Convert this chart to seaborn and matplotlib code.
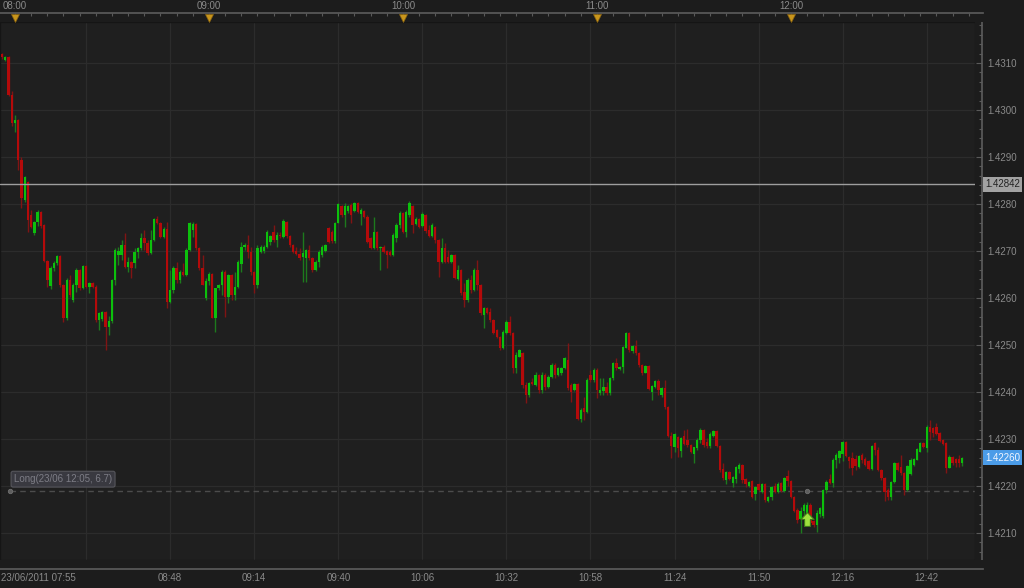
import numpy as np
import pandas as pd
import matplotlib
matplotlib.use("Agg")
import matplotlib.pyplot as plt
import matplotlib.transforms as mtransforms
from matplotlib.path import Path
from matplotlib.ticker import MultipleLocator, FixedLocator, FixedFormatter
import seaborn as sns

# ---------------- data ----------------
first_bar = "07:56"

opens = [
    1.43119, 1.43106, 1.43113, 1.43032, 1.42972, 1.42979, 1.42894, 1.42808, 1.42847, 1.42777,
    1.42738, 1.42762, 1.42783, 1.42755, 1.42679, 1.42626, 1.42664, 1.42674, 1.42689, 1.42628,
    1.42557, 1.42638, 1.42596, 1.42628, 1.42660, 1.42621, 1.42668, 1.42623, 1.42632, 1.42623,
    1.42553, 1.42555, 1.42570, 1.42538, 1.42551, 1.42638, 1.42691, 1.42691, 1.42713, 1.42666,
    1.42677, 1.42674, 1.42698, 1.42706, 1.42728, 1.42717, 1.42696, 1.42723, 1.42768, 1.42760,
    1.42730, 1.42747, 1.42591, 1.42617, 1.42664, 1.42638, 1.42655, 1.42649, 1.42702, 1.42745,
    1.42757, 1.42706, 1.42664, 1.42600, 1.42636, 1.42651, 1.42557, 1.42621, 1.42628, 1.42655,
    1.42602, 1.42649, 1.42606, 1.42623, 1.42672, 1.42709, 1.42713, 1.42698, 1.42655, 1.42628,
    1.42698, 1.42700, 1.42709, 1.42719, 1.42740, 1.42723, 1.42734, 1.42730, 1.42762, 1.42732,
    1.42713, 1.42700, 1.42693, 1.42687, 1.42685, 1.42702, 1.42685, 1.42660, 1.42677, 1.42692,
    1.42700, 1.42749, 1.42740, 1.42721, 1.42760, 1.42796, 1.42777, 1.42785, 1.42798, 1.42785,
    1.42802, 1.42779, 1.42785, 1.42772, 1.42728, 1.42706, 1.42740, 1.42706, 1.42709, 1.42700,
    1.42698, 1.42691, 1.42728, 1.42755, 1.42781, 1.42740, 1.42776, 1.42796, 1.42757, 1.42768,
    1.42753, 1.42777, 1.42745, 1.42732, 1.42751, 1.42723, 1.42677, 1.42706, 1.42687, 1.42677,
    1.42691, 1.42640, 1.42660, 1.42613, 1.42596, 1.42638, 1.42617, 1.42660, 1.42628, 1.42564,
    1.42579, 1.42570, 1.42553, 1.42532, 1.42517, 1.42494, 1.42526, 1.42549, 1.42526, 1.42451,
    1.42475, 1.42483, 1.42415, 1.42394, 1.42421, 1.42415, 1.42436, 1.42404, 1.42436, 1.42411,
    1.42432, 1.42457, 1.42436, 1.42440, 1.42451, 1.42468, 1.42415, 1.42404, 1.42417, 1.42343,
    1.42366, 1.42357, 1.42436, 1.42426, 1.42447, 1.42398, 1.42402, 1.42411, 1.42398, 1.42430,
    1.42462, 1.42449, 1.42453, 1.42494, 1.42526, 1.42487, 1.42498, 1.42483, 1.42457, 1.42440,
    1.42455, 1.42400, 1.42411, 1.42423, 1.42394, 1.42409, 1.42368, 1.42306, 1.42283, 1.42304,
    1.42275, 1.42306, 1.42298, 1.42287, 1.42268, 1.42281, 1.42298, 1.42319, 1.42294, 1.42285,
    1.42306, 1.42317, 1.42285, 1.42236, 1.42213, 1.42230, 1.42207, 1.42215, 1.42236, 1.42245,
    1.42215, 1.42200, 1.42211, 1.42183, 1.42204, 1.42187, 1.42204, 1.42168, 1.42177, 1.42200,
    1.42187, 1.42206, 1.42189, 1.42221, 1.42211, 1.42177, 1.42149, 1.42130, 1.42147, 1.42140,
    1.42160, 1.42125, 1.42117, 1.42140, 1.42136, 1.42191, 1.42215, 1.42206, 1.42255, 1.42260,
    1.42268, 1.42294, 1.42262, 1.42260, 1.42257, 1.42240, 1.42266, 1.42257, 1.42253, 1.42236,
    1.42291, 1.42277, 1.42234, 1.42217, 1.42191, 1.42177, 1.42208, 1.42249, 1.42240, 1.42228,
    1.42191, 1.42225, 1.42245, 1.42255, 1.42272, 1.42291, 1.42281, 1.42326, 1.42323, 1.42326,
    1.42313, 1.42298, 1.42291, 1.42238, 1.42262, 1.42257, 1.42257, 1.42249,
]

highs = [
    1.43122, 1.43115, 1.43115, 1.43040, 1.42989, 1.42981, 1.42900, 1.42860, 1.42849, 1.42787,
    1.42764, 1.42787, 1.42785, 1.42757, 1.42681, 1.42668, 1.42679, 1.42691, 1.42691, 1.42630,
    1.42643, 1.42649, 1.42632, 1.42664, 1.42662, 1.42670, 1.42670, 1.42634, 1.42634, 1.42628,
    1.42570, 1.42572, 1.42572, 1.42562, 1.42640, 1.42706, 1.42709, 1.42723, 1.42738, 1.42687,
    1.42679, 1.42706, 1.42709, 1.42738, 1.42745, 1.42723, 1.42745, 1.42770, 1.42774, 1.42762,
    1.42751, 1.42762, 1.42660, 1.42668, 1.42677, 1.42660, 1.42674, 1.42706, 1.42762, 1.42762,
    1.42760, 1.42708, 1.42691, 1.42643, 1.42655, 1.42653, 1.42621, 1.42630, 1.42660, 1.42660,
    1.42651, 1.42651, 1.42655, 1.42681, 1.42719, 1.42717, 1.42734, 1.42709, 1.42657, 1.42713,
    1.42713, 1.42713, 1.42745, 1.42734, 1.42755, 1.42740, 1.42740, 1.42768, 1.42764, 1.42734,
    1.42715, 1.42709, 1.42706, 1.42740, 1.42704, 1.42713, 1.42687, 1.42681, 1.42702, 1.42713,
    1.42715, 1.42751, 1.42745, 1.42762, 1.42802, 1.42798, 1.42802, 1.42798, 1.42802, 1.42804,
    1.42804, 1.42791, 1.42787, 1.42777, 1.42730, 1.42772, 1.42742, 1.42711, 1.42713, 1.42702,
    1.42702, 1.42738, 1.42760, 1.42785, 1.42783, 1.42787, 1.42806, 1.42798, 1.42772, 1.42770,
    1.42783, 1.42779, 1.42755, 1.42760, 1.42753, 1.42725, 1.42728, 1.42717, 1.42702, 1.42693,
    1.42693, 1.42670, 1.42662, 1.42632, 1.42643, 1.42649, 1.42664, 1.42681, 1.42630, 1.42581,
    1.42581, 1.42579, 1.42555, 1.42534, 1.42519, 1.42532, 1.42553, 1.42562, 1.42528, 1.42485,
    1.42491, 1.42485, 1.42421, 1.42421, 1.42430, 1.42442, 1.42438, 1.42442, 1.42440, 1.42436,
    1.42462, 1.42462, 1.42453, 1.42453, 1.42474, 1.42504, 1.42419, 1.42419, 1.42419, 1.42366,
    1.42389, 1.42430, 1.42447, 1.42451, 1.42451, 1.42430, 1.42430, 1.42421, 1.42432, 1.42464,
    1.42472, 1.42455, 1.42498, 1.42528, 1.42528, 1.42500, 1.42511, 1.42485, 1.42459, 1.42457,
    1.42457, 1.42415, 1.42426, 1.42428, 1.42411, 1.42426, 1.42370, 1.42315, 1.42313, 1.42306,
    1.42304, 1.42319, 1.42321, 1.42289, 1.42283, 1.42302, 1.42323, 1.42321, 1.42302, 1.42315,
    1.42319, 1.42319, 1.42287, 1.42249, 1.42232, 1.42232, 1.42221, 1.42242, 1.42249, 1.42247,
    1.42217, 1.42211, 1.42213, 1.42200, 1.42206, 1.42206, 1.42206, 1.42179, 1.42200, 1.42206,
    1.42208, 1.42208, 1.42219, 1.42234, 1.42213, 1.42179, 1.42153, 1.42155, 1.42164, 1.42166,
    1.42164, 1.42128, 1.42149, 1.42155, 1.42193, 1.42213, 1.42225, 1.42260, 1.42270, 1.42277,
    1.42296, 1.42296, 1.42264, 1.42272, 1.42266, 1.42266, 1.42270, 1.42262, 1.42255, 1.42287,
    1.42294, 1.42283, 1.42236, 1.42219, 1.42196, 1.42211, 1.42251, 1.42251, 1.42266, 1.42230,
    1.42245, 1.42260, 1.42260, 1.42281, 1.42294, 1.42294, 1.42330, 1.42340, 1.42326, 1.42334,
    1.42315, 1.42300, 1.42294, 1.42266, 1.42264, 1.42260, 1.42266, 1.42262,
]

lows = [
    1.43108, 1.43104, 1.43030, 1.42966, 1.42954, 1.42872, 1.42791, 1.42805, 1.42740, 1.42749,
    1.42734, 1.42753, 1.42749, 1.42677, 1.42623, 1.42619, 1.42657, 1.42670, 1.42623, 1.42549,
    1.42553, 1.42602, 1.42591, 1.42613, 1.42617, 1.42619, 1.42621, 1.42611, 1.42621, 1.42549,
    1.42532, 1.42551, 1.42489, 1.42521, 1.42547, 1.42628, 1.42670, 1.42681, 1.42664, 1.42655,
    1.42643, 1.42664, 1.42685, 1.42702, 1.42702, 1.42691, 1.42694, 1.42721, 1.42757, 1.42728,
    1.42728, 1.42579, 1.42589, 1.42611, 1.42632, 1.42632, 1.42647, 1.42647, 1.42700, 1.42730,
    1.42702, 1.42660, 1.42628, 1.42596, 1.42628, 1.42557, 1.42528, 1.42617, 1.42606, 1.42560,
    1.42589, 1.42596, 1.42596, 1.42621, 1.42655, 1.42702, 1.42685, 1.42649, 1.42611, 1.42621,
    1.42696, 1.42696, 1.42707, 1.42713, 1.42719, 1.42709, 1.42728, 1.42728, 1.42728, 1.42709,
    1.42696, 1.42691, 1.42681, 1.42634, 1.42634, 1.42681, 1.42655, 1.42657, 1.42666, 1.42687,
    1.42698, 1.42717, 1.42717, 1.42717, 1.42760, 1.42772, 1.42751, 1.42781, 1.42760, 1.42783,
    1.42781, 1.42755, 1.42770, 1.42717, 1.42704, 1.42704, 1.42702, 1.42660, 1.42696, 1.42664,
    1.42689, 1.42689, 1.42719, 1.42749, 1.42738, 1.42730, 1.42772, 1.42738, 1.42755, 1.42749,
    1.42751, 1.42738, 1.42730, 1.42730, 1.42717, 1.42645, 1.42674, 1.42674, 1.42674, 1.42675,
    1.42641, 1.42638, 1.42606, 1.42581, 1.42591, 1.42611, 1.42615, 1.42617, 1.42564, 1.42536,
    1.42566, 1.42549, 1.42524, 1.42515, 1.42489, 1.42492, 1.42524, 1.42521, 1.42440, 1.42440,
    1.42474, 1.42409, 1.42377, 1.42389, 1.42415, 1.42413, 1.42398, 1.42398, 1.42404, 1.42409,
    1.42430, 1.42430, 1.42434, 1.42436, 1.42449, 1.42404, 1.42379, 1.42402, 1.42340, 1.42336,
    1.42340, 1.42355, 1.42421, 1.42421, 1.42387, 1.42394, 1.42394, 1.42394, 1.42394, 1.42426,
    1.42447, 1.42447, 1.42440, 1.42494, 1.42485, 1.42483, 1.42479, 1.42453, 1.42436, 1.42440,
    1.42404, 1.42383, 1.42409, 1.42394, 1.42389, 1.42364, 1.42304, 1.42260, 1.42272, 1.42262,
    1.42262, 1.42287, 1.42283, 1.42270, 1.42249, 1.42277, 1.42291, 1.42283, 1.42281, 1.42281,
    1.42304, 1.42283, 1.42230, 1.42213, 1.42204, 1.42213, 1.42198, 1.42206, 1.42228, 1.42206,
    1.42198, 1.42198, 1.42175, 1.42170, 1.42189, 1.42185, 1.42166, 1.42166, 1.42170, 1.42185,
    1.42185, 1.42187, 1.42187, 1.42200, 1.42175, 1.42145, 1.42121, 1.42100, 1.42132, 1.42123,
    1.42117, 1.42113, 1.42102, 1.42134, 1.42132, 1.42185, 1.42204, 1.42198, 1.42238, 1.42249,
    1.42253, 1.42262, 1.42238, 1.42223, 1.42234, 1.42238, 1.42249, 1.42243, 1.42234, 1.42234,
    1.42266, 1.42232, 1.42213, 1.42168, 1.42170, 1.42170, 1.42206, 1.42232, 1.42223, 1.42181,
    1.42189, 1.42223, 1.42243, 1.42255, 1.42272, 1.42281, 1.42272, 1.42298, 1.42304, 1.42309,
    1.42294, 1.42287, 1.42228, 1.42238, 1.42245, 1.42240, 1.42240, 1.42243,
]

closes = [
    1.43113, 1.43113, 1.43032, 1.42972, 1.42979, 1.42894, 1.42813, 1.42857, 1.42766, 1.42751,
    1.42762, 1.42783, 1.42753, 1.42679, 1.42638, 1.42664, 1.42674, 1.42689, 1.42628, 1.42557,
    1.42638, 1.42606, 1.42628, 1.42660, 1.42621, 1.42668, 1.42623, 1.42632, 1.42623, 1.42553,
    1.42568, 1.42570, 1.42538, 1.42551, 1.42638, 1.42702, 1.42700, 1.42713, 1.42666, 1.42677,
    1.42664, 1.42698, 1.42706, 1.42728, 1.42717, 1.42696, 1.42723, 1.42768, 1.42760, 1.42730,
    1.42747, 1.42591, 1.42617, 1.42664, 1.42638, 1.42655, 1.42649, 1.42702, 1.42760, 1.42757,
    1.42706, 1.42664, 1.42628, 1.42636, 1.42651, 1.42557, 1.42621, 1.42628, 1.42655, 1.42602,
    1.42649, 1.42606, 1.42623, 1.42677, 1.42709, 1.42713, 1.42698, 1.42655, 1.42628, 1.42706,
    1.42709, 1.42709, 1.42740, 1.42732, 1.42723, 1.42734, 1.42732, 1.42764, 1.42732, 1.42713,
    1.42698, 1.42693, 1.42685, 1.42696, 1.42702, 1.42685, 1.42660, 1.42677, 1.42698, 1.42709,
    1.42713, 1.42719, 1.42721, 1.42760, 1.42800, 1.42777, 1.42796, 1.42796, 1.42777, 1.42802,
    1.42783, 1.42787, 1.42772, 1.42719, 1.42706, 1.42740, 1.42706, 1.42709, 1.42698, 1.42691,
    1.42691, 1.42734, 1.42755, 1.42781, 1.42740, 1.42783, 1.42802, 1.42755, 1.42768, 1.42751,
    1.42779, 1.42742, 1.42732, 1.42755, 1.42723, 1.42677, 1.42706, 1.42677, 1.42677, 1.42691,
    1.42643, 1.42660, 1.42611, 1.42596, 1.42638, 1.42617, 1.42660, 1.42628, 1.42568, 1.42579,
    1.42568, 1.42553, 1.42526, 1.42517, 1.42494, 1.42528, 1.42549, 1.42526, 1.42451, 1.42479,
    1.42489, 1.42415, 1.42394, 1.42419, 1.42417, 1.42436, 1.42404, 1.42436, 1.42411, 1.42432,
    1.42457, 1.42436, 1.42451, 1.42451, 1.42472, 1.42409, 1.42400, 1.42417, 1.42343, 1.42362,
    1.42357, 1.42426, 1.42426, 1.42447, 1.42404, 1.42404, 1.42411, 1.42398, 1.42430, 1.42462,
    1.42451, 1.42453, 1.42496, 1.42526, 1.42489, 1.42498, 1.42483, 1.42457, 1.42440, 1.42455,
    1.42406, 1.42413, 1.42423, 1.42404, 1.42409, 1.42368, 1.42306, 1.42285, 1.42311, 1.42281,
    1.42302, 1.42289, 1.42287, 1.42272, 1.42283, 1.42298, 1.42319, 1.42287, 1.42285, 1.42311,
    1.42317, 1.42285, 1.42234, 1.42217, 1.42230, 1.42215, 1.42219, 1.42240, 1.42245, 1.42213,
    1.42204, 1.42208, 1.42177, 1.42198, 1.42191, 1.42204, 1.42170, 1.42177, 1.42198, 1.42187,
    1.42204, 1.42189, 1.42217, 1.42211, 1.42177, 1.42147, 1.42128, 1.42147, 1.42160, 1.42160,
    1.42121, 1.42117, 1.42143, 1.42153, 1.42191, 1.42208, 1.42206, 1.42255, 1.42266, 1.42274,
    1.42294, 1.42264, 1.42253, 1.42238, 1.42243, 1.42264, 1.42255, 1.42245, 1.42236, 1.42285,
    1.42277, 1.42234, 1.42217, 1.42187, 1.42177, 1.42208, 1.42249, 1.42234, 1.42228, 1.42191,
    1.42243, 1.42255, 1.42257, 1.42279, 1.42291, 1.42283, 1.42326, 1.42315, 1.42313, 1.42311,
    1.42296, 1.42289, 1.42238, 1.42262, 1.42249, 1.42249, 1.42249, 1.42260,
]

hour_labels = ["08:00", "09:00", "10:00", "11:00", "12:00"]
date_label = "23/06/2011 07:55"
bottom_ticks = ["08:22", "08:48", "09:14", "09:40", "10:06", "10:32",
                "10:58", "11:24", "11:50", "12:16", "12:42"]
bottom_shown = ["", "08:48", "09:14", "09:40", "10:06", "10:32",
                "10:58", "11:24", "11:50", "12:16", "12:42"]
price_ticks = [1.4210, 1.4220, 1.4230, 1.4240, 1.4250, 1.4260,
               1.4270, 1.4280, 1.4290, 1.4300, 1.4310]
ref_price = 1.42842
last_price = 1.42260
entry_time = "12:05"
entry_price = 1.42189
arrow_price = 1.42130
signal_text = "Long(23/06 12:05, 6.7)"


def hm(s):
    h, m = s.split(":")
    return int(h) * 60 + int(m)


# ---------------- layout / style constants ----------------
W, H = 1024, 588
PX_PER_MIN = 3.233
X0_MIN, X0_PX = hm("08:00"), 15
Y0_PRICE, Y0_PX = 1.4310, 63
PX_PER_PRICE = 47 / 0.0010
FS = 7

OUTER = "#1c1c1c"
PLOT_BG = "#1f1f1f"
GRID = "#2c2c2c"
AXLINE = "#5a5a5a"
TXT = "#8a8a8a"
G_BODY, G_WICK = "#0cc00c", "#1d7a1d"
R_BODY, R_WICK = "#b40a0a", "#801414"


def px2min(x):
    return X0_MIN + (x - X0_PX) / PX_PER_MIN


def py2price(y):
    return Y0_PRICE - (y - Y0_PX) / PX_PER_PRICE


def rect(l, t, r, b):
    return [l / W, 1 - b / H, (r - l) / W, (b - t) / H]


sns.set_theme(style="dark")
plt.rcParams["font.family"] = ["Liberation Sans", "DejaVu Sans"]
plt.rcParams["axes.unicode_minus"] = False

df = pd.DataFrame({"o": opens, "h": highs, "l": lows, "c": closes})
df["t"] = hm(first_bar) + np.arange(len(df))
df["up"] = df["c"] >= df["o"]

fig = plt.figure(figsize=(W / 100, H / 100), dpi=100, facecolor=OUTER)

# ---------------- main plot ----------------
ax = fig.add_axes(rect(0, 22, 975, 560))
ax.set_facecolor(PLOT_BG)
ax.set_xlim(px2min(0), px2min(975))
ax.set_ylim(py2price(560), py2price(22))
ax.set_xticks([hm(s) for s in bottom_ticks])
ax.set_yticks(price_ticks)
ax.grid(True, color=GRID, lw=0.9)
ax.tick_params(length=0, labelleft=False, labelbottom=False, labelright=False)
for s in ax.spines.values():
    s.set_color("#151515")
    s.set_linewidth(1)
ax.set_axisbelow(True)

wick_colors = np.where(df["up"], G_WICK, R_WICK)
body_colors = np.where(df["up"], G_BODY, R_BODY)
ax.vlines(df["t"], df["l"], df["h"], colors=wick_colors, lw=1.0, zorder=2)
body_bottom = np.minimum(df["o"], df["c"])
body_h = np.maximum((df["c"] - df["o"]).abs(), 1.0 / PX_PER_PRICE)
ax.bar(df["t"], body_h, bottom=body_bottom, width=0.74, color=body_colors,
       linewidth=0, zorder=3)

# reference line
ax.axhline(ref_price, color="#9e9e9e", lw=1.0, zorder=4)
# signal dashed line
ax.axhline(entry_price, xmin=10 / 975, xmax=1, color="#4c4c4c", lw=1.0,
           ls=(0, (4, 3)), zorder=1.5)
sns.scatterplot(x=[px2min(10), hm(entry_time)], y=[entry_price, entry_price],
                ax=ax, s=10, color="#5e5e5e", edgecolor="#707070",
                linewidth=0.6, legend=False, zorder=5)
ax.annotate(signal_text, xy=(px2min(10), entry_price), xytext=(4, 12),
            textcoords="offset pixels", ha="left", va="center",
            fontsize=FS, color="#7d7d86",
            bbox=dict(boxstyle="round,pad=0.3,rounding_size=0.2",
                      fc="#393940", ec="#56565c", lw=0.8), zorder=6)

# entry arrow
arrow_path = Path([(0, 1), (0.95, 0.0), (0.42, 0.0), (0.42, -1), (-0.42, -1),
                   (-0.42, 0.0), (-0.95, 0.0), (0, 1)],
                  [Path.MOVETO] + [Path.LINETO] * 6 + [Path.CLOSEPOLY])
ax.plot([hm(entry_time)], [arrow_price], marker=arrow_path, ms=10,
        mfc="#9fe03e", mec="#3f7a18", mew=0.8, ls="none", zorder=7)

# ---------------- right price axis ----------------
ax_r = fig.add_axes(rect(975, 22, 982, 560), sharey=ax)
ax_r.set_facecolor(OUTER)
for k, s in ax_r.spines.items():
    s.set_visible(k == "right")
ax_r.spines["right"].set_color(AXLINE)
ax_r.set_xticks([])
ax_r.yaxis.tick_right()
ax_r.yaxis.set_major_locator(FixedLocator(price_ticks))
ax_r.yaxis.set_major_formatter(FixedFormatter([f"{p:.4f}" for p in price_ticks]))
ax_r.yaxis.set_minor_locator(MultipleLocator(0.0002))
ax_r.tick_params(axis="y", which="major", direction="in", length=4, width=0.8,
                 color=AXLINE, labelsize=FS, labelcolor=TXT, pad=4)
ax_r.tick_params(axis="y", which="minor", direction="in", length=2, width=0.8,
                 color=AXLINE)
ax.tick_params(axis="y", which="both", length=0)

trans = mtransforms.blended_transform_factory(fig.transFigure, ax.transData)
ax_r.text(985 / W, ref_price, f"{ref_price:.5f}", transform=trans, ha="left",
          va="center", fontsize=FS, color="#222222", clip_on=False, zorder=10,
          bbox=dict(boxstyle="square,pad=0.25", fc="#a2a2a2", ec="none"))
ax_r.text(985 / W, last_price, f"{last_price:.5f}", transform=trans, ha="left",
          va="center", fontsize=FS, color="#f2f6ff", clip_on=False, zorder=10,
          bbox=dict(boxstyle="square,pad=0.25", fc="#4b9ce8", ec="none"))

# ---------------- top time strip ----------------
ax_t = fig.add_axes(rect(0, 13, 983, 22))
ax_t.set_facecolor(OUTER)
ax_t.set_xlim(px2min(0), px2min(983))
ax_t.set_ylim(0, 1)
ax_t.set_yticks([])
for k, s in ax_t.spines.items():
    s.set_visible(k == "top")
ax_t.spines["top"].set_color(AXLINE)
hour_min = [hm(s) for s in hour_labels]
ax_t.xaxis.tick_top()
ax_t.xaxis.set_major_locator(FixedLocator(hour_min))
ax_t.xaxis.set_major_formatter(FixedFormatter(hour_labels))
ax_t.xaxis.set_minor_locator(MultipleLocator(5))
ax_t.tick_params(axis="x", which="major", direction="in", length=4, width=0.8,
                 color=AXLINE, labelsize=FS, labelcolor=TXT, pad=1.2)
ax_t.tick_params(axis="x", which="minor", direction="in", length=2.5,
                 width=0.8, color=AXLINE)
ax_t.plot(hour_min, [0.42] * len(hour_min), ls="none", marker="v", ms=6,
          mfc="#c8951c", mec="#8a6410", mew=0.5, clip_on=False, zorder=5)

# ---------------- bottom time strip ----------------
ax_b = fig.add_axes(rect(0, 560, 983, 569))
ax_b.set_facecolor(OUTER)
ax_b.set_xlim(px2min(0), px2min(983))
ax_b.set_ylim(0, 1)
ax_b.set_yticks([])
for k, s in ax_b.spines.items():
    s.set_visible(k == "bottom")
ax_b.spines["bottom"].set_color(AXLINE)
b_pos = [px2min(1)] + [hm(s) for s in bottom_ticks]
b_lab = [date_label] + bottom_shown
ax_b.xaxis.set_major_locator(FixedLocator(b_pos))
ax_b.xaxis.set_major_formatter(FixedFormatter(b_lab))
ax_b.xaxis.set_minor_locator(MultipleLocator(3.25, offset=hm("08:22") % 3.25))
ax_b.tick_params(axis="x", which="major", direction="in", length=5, width=0.8,
                 color=AXLINE, labelsize=FS, labelcolor=TXT, pad=3)
ax_b.tick_params(axis="x", which="minor", direction="in", length=2.5,
                 width=0.8, color=AXLINE)
ax_b.get_xticklabels()[0].set_horizontalalignment("left")

fig.savefig("out.png", dpi=100, facecolor=OUTER)
